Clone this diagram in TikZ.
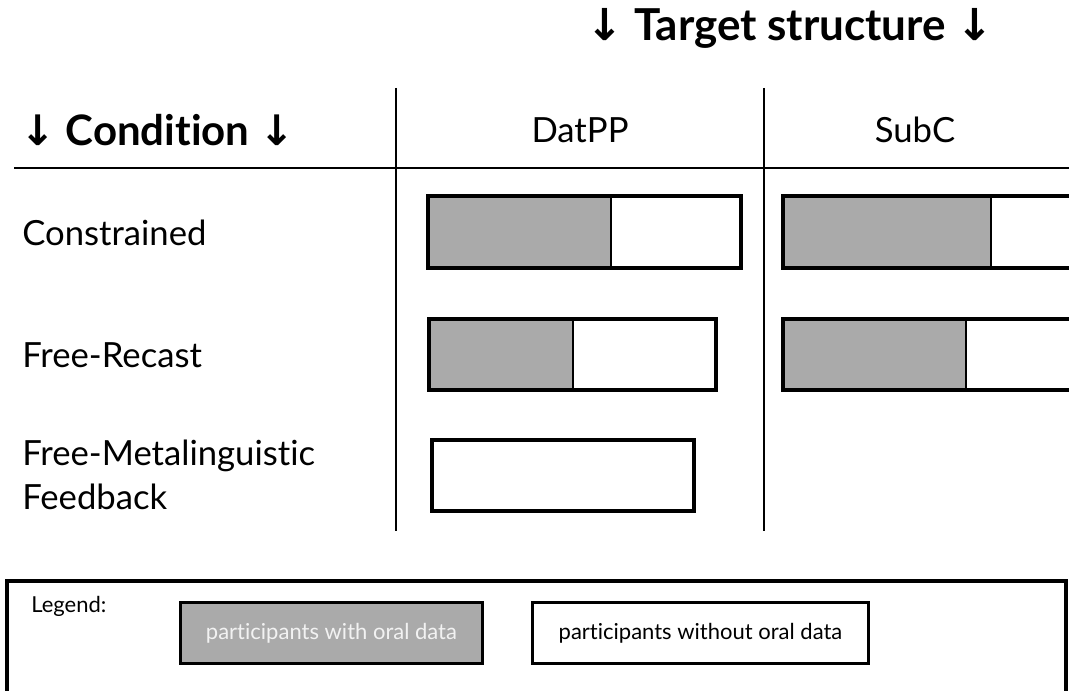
\documentclass[tikz,border=0pt]{standalone}
\usepackage{fontspec}
\setmainfont{Lato}[Ligatures=NoCommon]
\newfontfamily\arrowfont{DejaVu Sans}
\newcommand{\dn}{{\arrowfont ↓}}
\definecolor{barfill}{HTML}{AAAAAA}
\definecolor{lighttext}{HTML}{F2F2F2}
\begin{document}
\begin{tikzpicture}[x=0.75pt,y=-0.75pt,
  rule/.style={line width=2.2pt},
  barout/.style={line width=2.6pt},
  bardiv/.style={line width=1.6pt},
  head/.style={font=\fontsize{26}{30}\selectfont, inner sep=0pt},
  rowlabel/.style={font=\fontsize{26}{33}\selectfont, anchor=west, align=left, inner sep=0pt},
  legbox/.style={draw, line width=2.2pt, minimum height=61*0.75pt, inner sep=0pt, font=\fontsize{16.5}{20}\selectfont},
]
\useasboundingbox (0,0) rectangle (1069,691);
\clip (0,0) rectangle (1069,691);

% column headings
\node[head, font=\fontsize{33}{37}\selectfont\bfseries] (target) at (790,28) {\dn\ Target structure \dn};
\node[head, anchor=west, font=\fontsize{31.5}{35}\selectfont\bfseries] (condition) at (20,130) {\dn\ Condition \dn};
\node[head] (datpp) at (580,130) {DatPP};
\node[head] (subc) at (915,130) {SubC};

% table rules
\coordinate (hl) at (14,168);
\coordinate (hr) at (1075,168);
\coordinate (v1t) at (396,88);
\coordinate (v1b) at (396,531);
\coordinate (v2t) at (764,88);
\coordinate (v2b) at (764,531);
\draw[rule] (hl) -- (hr);
\draw[rule] (v1t) -- (v1b);
\draw[rule] (v2t) -- (v2b);

% row labels
\node[rowlabel] (constrained) at (22,233) {Constrained};
\node[rowlabel] (recast) at (22,355) {Free-Recast};
\node[rowlabel] (meta) at (22,475) {Free-Metalinguistic\\Feedback};

% Constrained
\fill[barfill] (428,196) rectangle (611,268);
\draw[bardiv] (611,196) -- (611,268);
\draw[barout] (428,196) rectangle (741,268);
\fill[barfill] (783,196) rectangle (991,268);
\draw[bardiv] (991,196) -- (991,268);
\draw[barout] (783,196) rectangle (1080,268);

% Free-Recast
\fill[barfill] (429,319) rectangle (573,390);
\draw[bardiv] (573,319) -- (573,390);
\draw[barout] (429,319) rectangle (716,390);
\fill[barfill] (783,319) rectangle (966,390);
\draw[bardiv] (966,319) -- (966,390);
\draw[barout] (783,319) rectangle (1080,390);

% Free-Metalinguistic Feedback
\draw[barout] (432,440) rectangle (694,511);

% legend
\draw[line width=2.4pt] (7,581) rectangle (1066,700);
\node[anchor=north west, inner sep=0pt, font=\fontsize{16.5}{20}\selectfont] (legend) at (31,596) {Legend:};
\node[legbox, fill=barfill, text=lighttext, anchor=north west, minimum width=302*0.75pt] (withoral) at (179,601) {participants with oral data};
\node[legbox, fill=white, anchor=north west, minimum width=336*0.75pt] (withoutoral) at (531,601) {participants without oral data};
\end{tikzpicture}
\end{document}
